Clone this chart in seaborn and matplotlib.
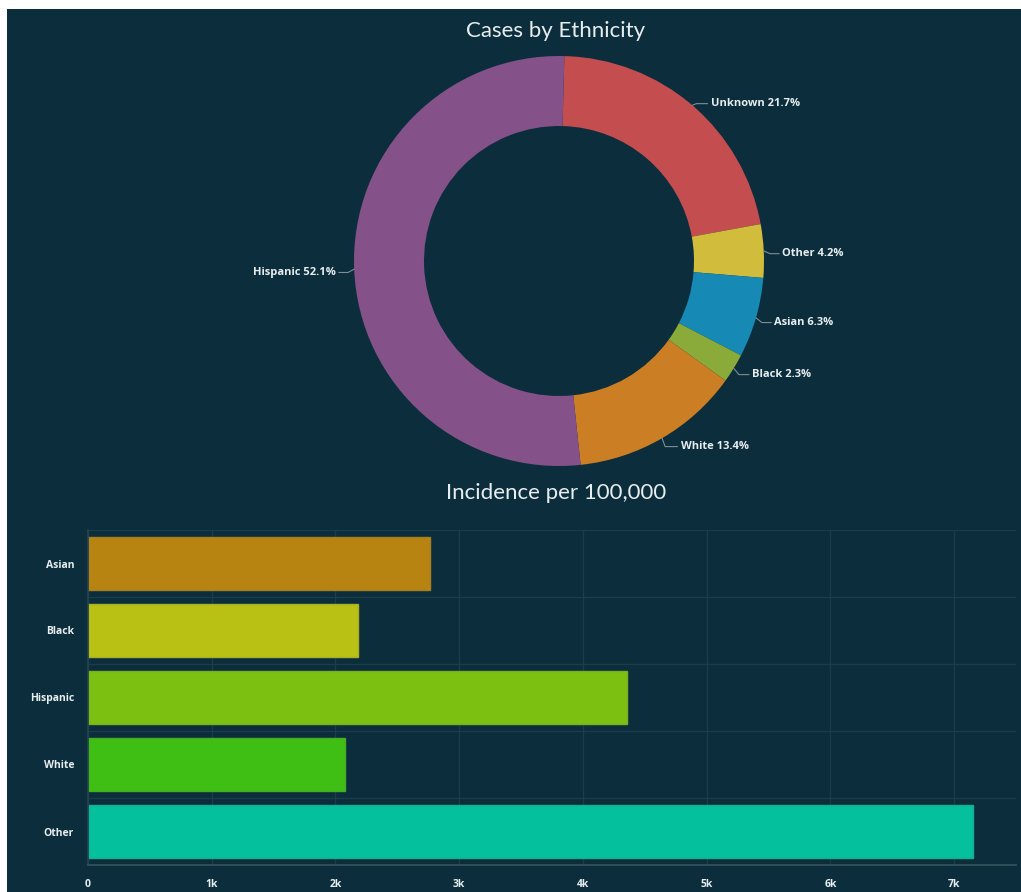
import numpy as np
import matplotlib
matplotlib.use("Agg")
import matplotlib.pyplot as plt
import seaborn as sns

# donut data (clockwise from 12 o'clock)
eth_labels = ["Unknown", "Other", "Asian", "Black", "White", "Hispanic"]
eth_pct = [21.7, 4.2, 6.3, 2.3, 13.4, 52.1]
eth_colors = ["#c44d50", "#d1bc3c", "#1689b5", "#8aab3a", "#cb7e24", "#845188"]

# bar data
inc_labels = ["Asian", "Black", "Hispanic", "White", "Other"]
inc_values = [2760, 2180, 4360, 2080, 7150]
inc_colors = ["#b78412", "#b8c114", "#7cc012", "#3fbe13", "#04c09c"]
x_ticks = [0, 1000, 2000, 3000, 4000, 5000, 6000, 7000]
x_ticklabels = ["0", "1k", "2k", "3k", "4k", "5k", "6k", "7k"]

BG = "#0c2e3c"
GRID = "#1a3d4a"
TXT = "#e8eef0"

sns.set_theme(style="dark")
plt.rcParams["font.family"] = ["Lato", "DejaVu Sans"]

W, H = 1021, 892
fig = plt.figure(figsize=(W / 100, H / 100), dpi=100)
fig.patch.set_facecolor("white")

# dark panel (white strip on top and left like the screenshot)
bg = fig.add_axes([7 / W, 0, 1 - 7 / W, (H - 9) / H])
bg.set_facecolor(BG)
bg.set_xticks([])
bg.set_yticks([])
for s in bg.spines.values():
    s.set_visible(False)

# ---- donut ----
cx, cy, r_px, r_in = 559, 261, 205, 135
axp = fig.add_axes([(cx - r_px) / W, 1 - (cy + r_px) / H, 2 * r_px / W, 2 * r_px / H])
axp.set_facecolor("none")
axp.axis("off")
wedges, _ = axp.pie(eth_pct, colors=eth_colors, startangle=88.5, counterclock=False,
                    radius=1.0, wedgeprops=dict(width=1 - r_in / r_px, edgecolor="none"))
axp.set_xlim(-1, 1)
axp.set_ylim(-1, 1)

for w, lab, pct in zip(wedges, eth_labels, eth_pct):
    ang = np.deg2rad((w.theta1 + w.theta2) / 2)
    x0, y0 = np.cos(ang), np.sin(ang)
    side = 1 if x0 >= 0 else -1
    x1, y1 = 1.03 * x0, 1.03 * y0 - 0.015
    x2 = x0 + side * 0.075
    axp.plot([x0, x1, x2], [y0, y1, y1], color="#7f8e94", lw=0.8, clip_on=False)
    axp.text(x2 + side * 0.015, y1, f"{lab} {pct}%", color=TXT, fontsize=8,
             fontweight="bold", ha="left" if side > 0 else "right", va="center",
             family=["Open Sans", "DejaVu Sans"])

fig.text(556 / W, 1 - 31 / H, "Cases by Ethnicity", color=TXT, fontsize=16,
         ha="center", va="center")
fig.text(556 / W, 1 - 493 / H, "Incidence per 100,000", color=TXT, fontsize=16,
         ha="center", va="center")

# ---- bars ----
x_l, x_r, y_t, y_b = 88, 1016, 530, 865
axb = fig.add_axes([x_l / W, 1 - y_b / H, (x_r - x_l) / W, (y_b - y_t) / H])
axb.set_facecolor("none")
sns.barplot(x=inc_values, y=inc_labels, hue=inc_labels, palette=inc_colors,
            legend=False, width=0.8, orient="h", ax=axb, saturation=1,
            linewidth=1.0)
for p, c in zip(axb.patches, inc_colors):
    p.set_edgecolor(sns.desaturate(c, 0.8))

axb.set_xlim(0, 7500)
axb.set_ylim(len(inc_labels) - 0.5, -0.5)
axb.set_xticks(x_ticks)
axb.set_xticklabels(x_ticklabels, color=TXT, fontsize=7.5, fontweight="bold",
                    family=["Open Sans", "DejaVu Sans"])
axb.set_yticks(range(len(inc_labels)))
axb.set_yticklabels(inc_labels, color=TXT, fontsize=7.5, fontweight="bold",
                    family=["Open Sans", "DejaVu Sans"])
axb.set_yticks(np.arange(-0.5, len(inc_labels), 1), minor=True)
axb.grid(False)
axb.grid(True, axis="x", which="major", color=GRID, lw=1)
axb.grid(True, axis="y", which="minor", color=GRID, lw=1)
axb.set_axisbelow(True)
axb.tick_params(axis="y", which="major", length=6, color="#33525d", pad=4)
axb.tick_params(axis="y", which="minor", length=0)
axb.tick_params(axis="x", length=0, pad=10)
for s in ["top", "right"]:
    axb.spines[s].set_visible(False)
axb.spines["left"].set_color("#23434f")
axb.spines["bottom"].set_color("#33525d")
axb.set_xlabel("")
axb.set_ylabel("")

fig.savefig("out.png", dpi=100, facecolor=fig.get_facecolor())
